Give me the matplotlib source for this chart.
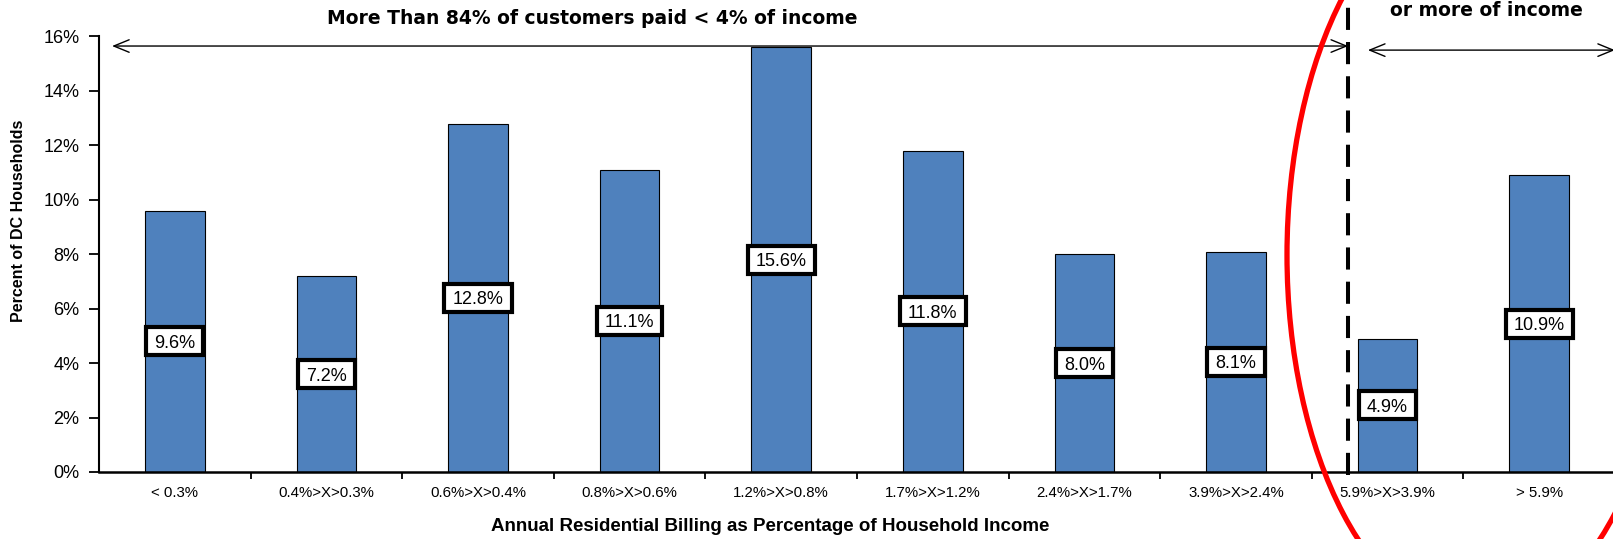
import matplotlib
matplotlib.use("Agg")
import matplotlib.pyplot as plt
from matplotlib.patches import Ellipse
from matplotlib.path import Path
from matplotlib.ticker import FuncFormatter

plt.rcParams['font.family'] = ['Liberation Sans', 'DejaVu Sans']

# share of DC households by annual bill as % of household income
categories = ['< 0.3%', '0.4%>X>0.3%', '0.6%>X>0.4%', '0.8%>X>0.6%', '1.2%>X>0.8%',
              '1.7%>X>1.2%', '2.4%>X>1.7%', '3.9%>X>2.4%', '5.9%>X>3.9%', '> 5.9%']
shares = [9.6, 7.2, 12.8, 11.1, 15.6, 11.8, 8.0, 8.1, 4.9, 10.9]
y_ticks = [0, 2, 4, 6, 8, 10, 12, 14, 16]


# rectangle with more room left/right than above/below the text
def label_box(x0, y0, width, height, mutation_size):
    padx = 0.45 * mutation_size
    pady = 0.3 * mutation_size
    x0, y0 = x0 - padx, y0 - pady
    x1, y1 = x0 + width + 2 * padx, y0 + height + 2 * pady
    return Path([(x0, y0), (x1, y0), (x1, y1), (x0, y1), (x0, y0)],
                [Path.MOVETO, Path.LINETO, Path.LINETO, Path.LINETO, Path.CLOSEPOLY])


W, H = 1613, 539
fig = plt.figure(figsize=(W / 100, H / 100), dpi=100)
ax = fig.add_axes([99 / W, (H - 472) / H, 1516 / W, 435.5 / H])

x = list(range(len(categories)))
ax.bar(x, shares, width=0.393, color='#4F81BD', edgecolor='black', linewidth=0.8, zorder=2)

# value boxes in the middle of each bar: the box comes from a hidden copy of the
# label, the visible one is centred on its digits
for i, v in zip(x, shares):
    lbl = '%.1f%%' % v
    ax.text(i, v / 2, lbl, ha='center', va='center', fontsize=13, color='none', zorder=4,
            bbox=dict(boxstyle=label_box, fc='white', ec='black', lw=3))
    ax.text(i, v / 2, lbl, ha='center', va='center_baseline', fontsize=13, zorder=5)

ax.set_xlim(-0.5, len(categories) - 0.5)
ax.set_ylim(0, 16)

ax.spines['top'].set_visible(False)
ax.spines['right'].set_visible(False)
ax.spines['left'].set_linewidth(1.5)
ax.spines['bottom'].set_linewidth(1.8)

ax.set_yticks(y_ticks)
ax.yaxis.set_major_formatter(FuncFormatter(lambda v, p: '%d%%' % v))
ax.tick_params(axis='y', direction='out', length=7, width=1.3, pad=7, labelsize=13)

ax.set_xticks(x)
ax.set_xticklabels(categories)
ax.set_xticks([i + 0.5 for i in x], minor=True)
ax.tick_params(axis='x', which='major', length=0, pad=10, labelsize=10.8)
ax.tick_params(axis='x', which='minor', direction='out', length=5, width=1.3)

ax.set_ylabel('Percent of DC Households', fontsize=11.5, fontweight='bold')
ax.yaxis.set_label_coords(-0.048, 0.576)
ax.set_xlabel('Annual Residential Billing as Percentage of Household Income',
              fontsize=13.5, fontweight='bold')
ax.xaxis.label.set_va('center')
ax.xaxis.set_label_coords(0.443, -0.126)

# divider between the two income-share groups
split = 7.74
ax.plot([split, split], [-0.12, 17.5], color='black', lw=2.9,
        linestyle=(0, (5.5, 3)), clip_on=False, zorder=3)

arrow = dict(arrowstyle='<->,head_length=1.1,head_width=0.45', lw=1, color='black',
             shrinkA=0, shrinkB=0, mutation_scale=10)
ax.annotate('', xy=(-0.414, 15.65), xytext=(split, 15.65), arrowprops=arrow,
            annotation_clip=False)
ax.annotate('', xy=(7.87, 15.5), xytext=(9.5, 15.5), arrowprops=arrow,
            annotation_clip=False)

fig.text(592 / W, 1 - 18.5 / H, 'More Than 84% of customers paid < 4% of income',
         fontsize=13.5, fontweight='bold', ha='center', va='center', family='DejaVu Sans')
fig.text(1486 / W, 1 - 16 / H, 'or more of income',
         fontsize=13.5, fontweight='bold', ha='center', va='baseline', family='DejaVu Sans')

# red ring around the high-burden group
fig.add_artist(Ellipse((1479 / W, 1 - 255 / H), 384 / W, 732 / H,
                       transform=fig.transFigure, fill=False, ec='red', lw=3.8))

fig.savefig('out.png', dpi=100)
